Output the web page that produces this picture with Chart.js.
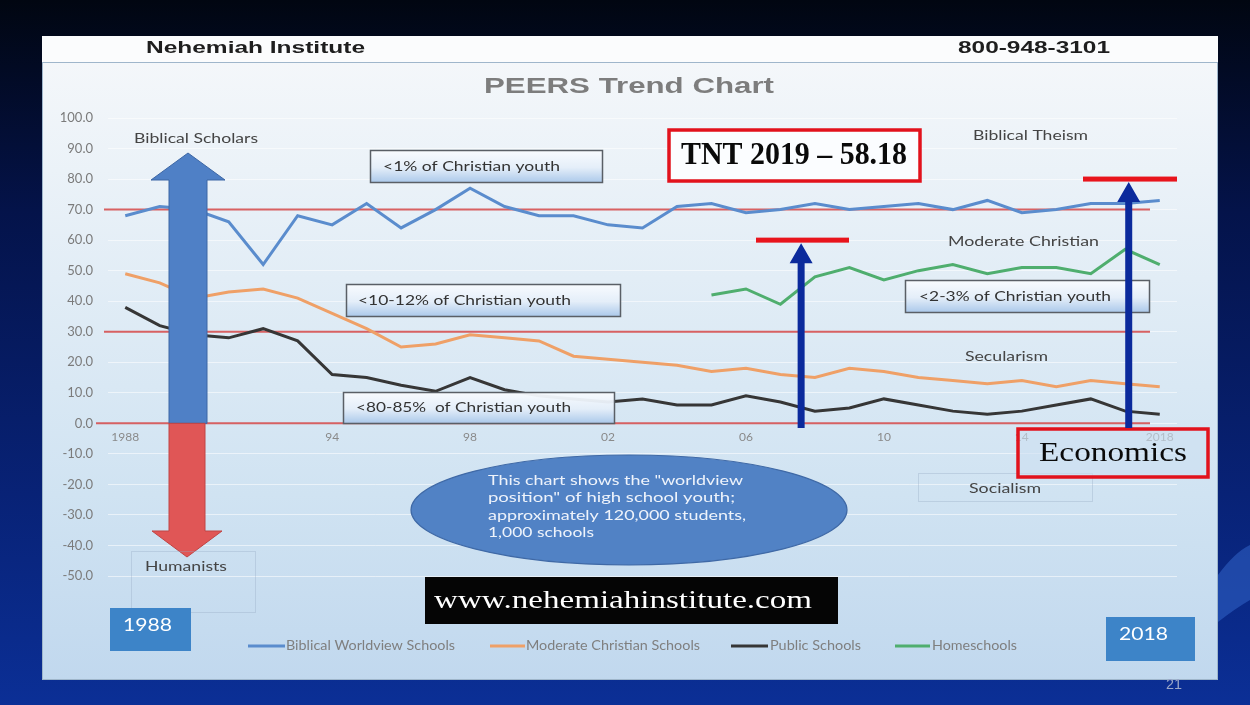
<!DOCTYPE html>
<html>
<head>
<meta charset="utf-8">
<title>PEERS Trend Chart</title>
<script src="https://cdn.jsdelivr.net/npm/chart.js@4.4.1/dist/chart.umd.min.js"></script>
<style>
  html, body { margin: 0; padding: 0; background: #041550; overflow: hidden; }
  canvas { display: block; }
</style>
</head>
<body>
<canvas id="peersChart" width="1250" height="705"></canvas>
<script>
// categories: one point per year
const years = ["1988", "1989", "1990", "1991", "1992", "1993", "1994", "1995", "1996", "1997",
    "1998", "1999", "2000", "2001", "2002", "2003", "2004", "2005", "2006", "2007",
    "2008", "2009", "2010", "2011", "2012", "2013", "2014", "2015", "2016", "2017", "2018"];
// which years get a label on the axis, and how it is written
const tickYears = ["1988", "1994", "1998", "2002", "2006", "2010", "2014", "2018"];
const tickTexts = ["1988", "94", "98", "02", "06", "10", "14", "2018"];

const seriesNames = ["Biblical Worldview Schools", "Moderate Christian Schools", "Public Schools", "Homeschools"];
const biblicalWorldview = [68, 71, 70, 66, 52, 68, 65, 72, 64, 70, 77, 71, 68, 68, 65, 64,
    71, 72, 69, 70, 72, 70, 71, 72, 70, 73, 69, 70, 72, 72, 73];
const moderateChristian = [49, 46, 41, 43, 44, 41, 36, 31, 25, 26, 29, 28, 27, 22, 21, 20,
    19, 17, 18, 16, 15, 18, 17, 15, 14, 13, 14, 12, 14, 13, 12];
const publicSchools = [38, 32, 29, 28, 31, 27, 16, 15, 12.5, 10.5, 15, 11, 9, 8, 7, 8,
    6, 6, 9, 7, 4, 5, 8, 6, 4, 3, 4, 6, 8, 4, 3];
const homeschools = [null, null, null, null, null, null, null, null, null, null, null, null,
    null, null, null, null, null, 42, 44, 39, 48, 51, 47, 50, 52, 49, 51, 51, 49, 57, 52];

// worldview band boundaries (red lines) and the two TNT target levels
const referenceLevels = [70, 30, 0];
const tntLevels = [60, 80];

Chart.defaults.font.family = "Lato";

// text squeezed / stretched to the width it has on the scanned slide
function text(ctx, s, x, y, font, color, width) {
    ctx.save();
    ctx.font = font;
    ctx.fillStyle = color;
    ctx.textBaseline = "middle";
    ctx.textAlign = "left";
    const w = ctx.measureText(s).width;
    ctx.translate(x, y);
    ctx.scale(width ? width / w : 1, 1);
    ctx.fillText(s, 0, 0);
    ctx.restore();
}

function arrow(ctx, cx, shaft, head, yTail, yBase, yTip, fill, stroke) {
    ctx.beginPath();
    ctx.moveTo(cx - shaft, yTail);
    ctx.lineTo(cx - shaft, yBase);
    ctx.lineTo(cx - head, yBase);
    ctx.lineTo(cx, yTip);
    ctx.lineTo(cx + head, yBase);
    ctx.lineTo(cx + shaft, yBase);
    ctx.lineTo(cx + shaft, yTail);
    ctx.closePath();
    ctx.fillStyle = fill;
    ctx.fill();
    if (stroke) {
        ctx.strokeStyle = stroke;
        ctx.lineWidth = 1;
        ctx.stroke();
    }
}

function youthBox(ctx, x1, y1, x2, y2, label, tx, tw) {
    const g = ctx.createLinearGradient(0, y1, 0, y2);
    g.addColorStop(0, "rgba(250,252,255,0.95)");
    g.addColorStop(0.55, "rgba(228,238,249,0.95)");
    g.addColorStop(1, "rgba(170,200,234,0.95)");
    ctx.fillStyle = g;
    ctx.fillRect(x1, y1, x2 - x1, y2 - y1);
    ctx.strokeStyle = "#5a5f66";
    ctx.lineWidth = 1.5;
    ctx.strokeRect(x1 + 0.5, y1 + 0.5, x2 - x1, y2 - y1);
    text(ctx, label, tx, (y1 + y2) / 2, "14px Lato", "#333333", tw);
}

const slideDecor = {
    id: "slideDecor",
    beforeDraw(chart) {
        const ctx = chart.ctx;
        const W = chart.width, H = chart.height;
        ctx.save();
        let g = ctx.createLinearGradient(0, 0, 0, H);
        g.addColorStop(0, "#010611");
        g.addColorStop(0.3, "#04134a");
        g.addColorStop(0.7, "#082276");
        g.addColorStop(1, "#0b2f96");
        ctx.fillStyle = g;
        ctx.fillRect(0, 0, W, H);
        // lighter swoosh on the right edge
        ctx.beginPath();
        ctx.moveTo(1218, 575);
        ctx.quadraticCurveTo(1235, 552, 1250, 545);
        ctx.lineTo(1250, 600);
        ctx.quadraticCurveTo(1236, 608, 1218, 622);
        ctx.closePath();
        ctx.fillStyle = "rgba(50,100,200,0.55)";
        ctx.fill();

        // the scanned sheet
        ctx.fillStyle = "#fbfcfd";
        ctx.fillRect(42, 36, 1176, 27);
        g = ctx.createLinearGradient(0, 62, 0, 680);
        g.addColorStop(0, "#f4f7fa");
        g.addColorStop(0.35, "#e2edf6");
        g.addColorStop(0.7, "#d0e3f2");
        g.addColorStop(1, "#c1d8ee");
        ctx.fillStyle = g;
        ctx.fillRect(42, 62, 1176, 618);
        ctx.strokeStyle = "#9fb6cb";
        ctx.lineWidth = 1;
        ctx.strokeRect(42.5, 62.5, 1175, 617);

        text(ctx, "Nehemiah Institute", 146, 49, "bold 16px 'Liberation Sans'", "#1e1e1e", 219);
        text(ctx, "800-948-3101", 958, 49, "bold 16px 'Liberation Sans'", "#1e1e1e", 152);
        text(ctx, "PEERS Trend Chart", 484, 87, "bold 22px 'Liberation Sans'", "#7d7d7d", 290);
        text(ctx, "21", 1166, 685, "14px 'Liberation Sans'", "#9aa6c8", 16);
        ctx.restore();
    },
    beforeDatasetsDraw(chart) {
        const ctx = chart.ctx;
        const y = chart.scales.y;
        ctx.save();
        ctx.strokeStyle = "rgba(212,70,70,0.85)";
        ctx.lineWidth = 2;
        referenceLevels.forEach(v => {
            const py = y.getPixelForValue(v);
            ctx.beginPath();
            ctx.moveTo(v === 0 ? 96 : 104, py);
            ctx.lineTo(1150, py);
            ctx.stroke();
        });
        ctx.restore();
    },
    afterDatasetsDraw(chart) {
        const ctx = chart.ctx;
        const x = chart.scales.x, y = chart.scales.y;
        const zero = y.getPixelForValue(0);
        ctx.save();

        // Biblical Scholars / Humanists arrows
        arrow(ctx, 188, 19, 37, zero, 180, 153, "#4f80c6", "#3d67a5");
        arrow(ctx, 187, 18, 35, zero, 531, 557, "#e05656", "#c04444");

        // faint boxes from the scan
        ctx.strokeStyle = "rgba(150,170,195,0.35)";
        ctx.lineWidth = 1;
        ctx.strokeRect(131.5, 551.5, 124, 61);
        ctx.strokeRect(918.5, 473.5, 174, 28);

        text(ctx, "Biblical Scholars", 134, 138, "14px Lato", "#444444", 124);
        text(ctx, "Humanists", 145, 566, "14px Lato", "#444444", 82);
        text(ctx, "Biblical Theism", 973, 135, "14px Lato", "#444444", 115);
        text(ctx, "Moderate Christian", 948, 241, "14px Lato", "#444444", 151);
        text(ctx, "Secularism", 965, 356, "14px Lato", "#444444", 83);
        text(ctx, "Socialism", 969, 488, "14px Lato", "#444444", 72);

        youthBox(ctx, 370, 150, 602, 182, "<1% of Christian youth", 383, 177);
        youthBox(ctx, 346, 284, 620, 316, "<10-12% of Christian youth", 358, 213);
        youthBox(ctx, 343, 392, 614, 423, "<80-85%  of Christian youth", 356, 215);
        youthBox(ctx, 905, 280, 1149, 312, "<2-3% of Christian youth", 919, 192);

        // ellipse note
        ctx.beginPath();
        ctx.ellipse(629, 510, 218, 55, 0, 0, Math.PI * 2);
        ctx.fillStyle = "#5182c5";
        ctx.fill();
        ctx.strokeStyle = "#3f69a6";
        ctx.lineWidth = 1.2;
        ctx.stroke();
        text(ctx, "This chart shows the \"worldview", 488, 480, "14px Lato", "#eef3fb", 255);
        text(ctx, "position\" of high school youth;", 488, 497, "14px Lato", "#eef3fb", 247);
        text(ctx, "approximately 120,000 students,", 488, 515, "14px Lato", "#eef3fb", 258);
        text(ctx, "1,000 schools", 488, 532, "14px Lato", "#eef3fb", 106);

        // web address
        ctx.fillStyle = "#050505";
        ctx.fillRect(425, 577, 413, 47);
        text(ctx, "www.nehemiahinstitute.com", 434, 601, "26px 'Liberation Serif'", "#ffffff", 378);

        // year badges
        ctx.fillStyle = "#3d84c8";
        ctx.fillRect(110, 608, 81, 43);
        ctx.fillRect(1106, 617, 89, 44);
        text(ctx, "1988", 123, 625, "18px Lato", "#ffffff", 49);
        text(ctx, "2018", 1119, 634, "18px Lato", "#ffffff", 49);

        // legend
        const legendX = [[248, 285, 286, 169], [490, 525, 526, 174], [731, 768, 770, 91], [895, 930, 932, 85]];
        chart.data.datasets.forEach((ds, i) => {
            const [a, b, t, w] = legendX[i];
            ctx.strokeStyle = ds.borderColor;
            ctx.lineWidth = 3;
            ctx.beginPath();
            ctx.moveTo(a, 646);
            ctx.lineTo(b, 646);
            ctx.stroke();
            text(ctx, ds.label, t, 646, "13px Lato", "#7f7f7f", w);
        });

        // TNT 2019 and Economics callouts
        ctx.fillStyle = "#fbfdff";
        ctx.fillRect(669, 130, 251, 51);
        ctx.strokeStyle = "#e2121c";
        ctx.lineWidth = 3.5;
        ctx.strokeRect(669, 130, 251, 51);
        text(ctx, "TNT 2019 \u2013 58.18", 681, 156, "bold 32px 'Liberation Serif'", "#0a0a0a", 226);

        ctx.fillStyle = "rgba(205,224,241,0.6)";
        ctx.fillRect(1018, 429, 190, 48);
        ctx.strokeRect(1018, 429, 190, 48);
        text(ctx, "Economics", 1039, 454, "27px 'Liberation Serif'", "#0a0a0a", 148);

        // TNT arrows reaching their target levels
        const arrowIdx = [19.6, 29.1];
        const barSpan = [[756, 849], [1083, 1177]];
        tntLevels.forEach((v, i) => {
            const py = y.getPixelForValue(v);
            const px = x.getPixelForValue(arrowIdx[i]);
            arrow(ctx, px, 3.5, 11.5, 428, py + 23, py + 3, "#0b2a9c");
            ctx.fillStyle = "#e8141c";
            ctx.fillRect(barSpan[i][0], py - 2.5, barSpan[i][1] - barSpan[i][0], 5);
        });
        ctx.restore();
    }
};

const canvas = document.getElementById("peersChart");
let peersChart;
function drawChart() {
    const ctx = canvas.getContext("2d");
    if (peersChart) {
        peersChart.destroy();
    }
    peersChart = new Chart(ctx, {
        type: "line",
        data: {
            labels: years,
            datasets: [
                { label: seriesNames[0], data: biblicalWorldview, borderColor: "#5a8ccd" },
                { label: seriesNames[1], data: moderateChristian, borderColor: "#efa067" },
                { label: seriesNames[2], data: publicSchools, borderColor: "#363636" },
                { label: seriesNames[3], data: homeschools, borderColor: "#4fae6e" },
            ],
        },
        options: {
            responsive: false,
            animation: false,
            devicePixelRatio: 1,
            layout: { padding: { left: 50, right: 73, top: 118, bottom: 129 } },
            elements: {
                line: { borderWidth: 3, tension: 0, fill: false },
                point: { radius: 0, hoverRadius: 0 },
            },
            plugins: {
                legend: { display: false },
                title: { display: false },
                tooltip: { enabled: false },
            },
            scales: {
                x: {
                    position: { y: 0 },
                    offset: true,
                    grid: { display: false, drawTicks: false },
                    border: { display: false },
                    ticks: {
                        autoSkip: false,
                        maxRotation: 0,
                        padding: 7,
                        color: "#8a8a8a",
                        font: { size: 12 },
                        callback: function (value, index) {
                            const k = tickYears.indexOf(years[index]);
                            return k >= 0 ? tickTexts[k] : "";
                        },
                    },
                },
                y: {
                    min: -50,
                    max: 100,
                    afterFit: function (scale) { scale.width = 58; },
                    grid: { color: "rgba(255,255,255,0.55)", drawTicks: false },
                    border: { display: false },
                    ticks: {
                        stepSize: 10,
                        padding: 15,
                        color: "#7b7b7b",
                        font: { size: 13 },
                        callback: function (value) { return value.toFixed(1); },
                    },
                },
            },
        },
        plugins: [slideDecor],
    });
}

drawChart();
</script>
</body>
</html>
